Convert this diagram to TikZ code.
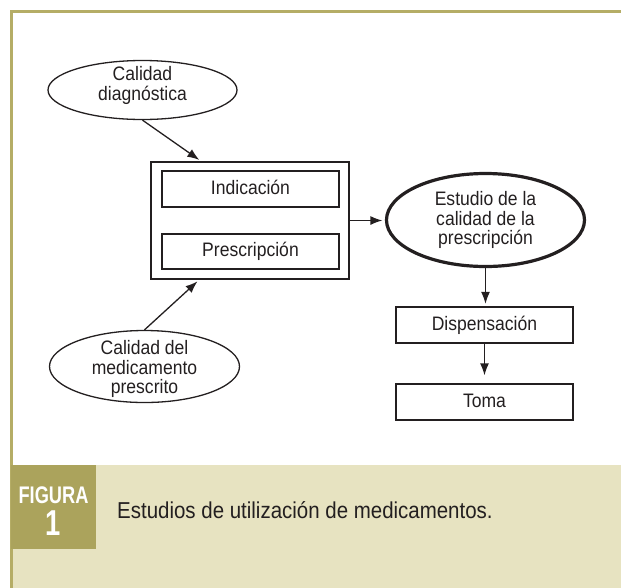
\documentclass[tikz,border=0pt]{standalone}
\usepackage{fontspec}
\setmainfont{Liberation Sans}[FakeStretch=0.9]
\newfontfamily\capfont{Liberation Sans}[FakeStretch=0.89]
\newfontfamily\figfont{Liberation Sans}[FakeStretch=0.76]
\usetikzlibrary{shapes.geometric,arrows.meta,calc}
\definecolor{frameolive}{HTML}{B5AD66}
\definecolor{darkolive}{HTML}{ABA35C}
\definecolor{beigepanel}{HTML}{E7E3C1}
\definecolor{ink}{HTML}{231F20}
\tikzset{
  boxnode/.style={draw=ink, line width=1.3pt, rectangle, inner sep=0pt,
    text height=14pt, text depth=4pt, text=ink,
    font=\fontsize{19.5}{19.5}\selectfont},
  ovalnode/.style={draw=ink, line width=1.3pt, ellipse, inner sep=0pt,
    align=center, text=ink, font=\fontsize{19.5}{19.5}\selectfont},
  arr/.style={draw=ink, line width=1.3pt, -{Latex[length=12pt,width=9pt]},
    shorten >=2.5pt}
}
\begin{document}
\begin{tikzpicture}[x=1pt,y=-1pt]
\useasboundingbox (0,0) rectangle (621,587);
\clip (0,0) rectangle (621,587);
% frame and caption panel
\fill[beigepanel] (12,465) rectangle (630,600);
\draw[frameolive, line width=2.5pt] (640,11.5) -- (11.5,11.5) -- (11.5,600);
\fill[darkolive] (10.5,465) rectangle (96,549);
\node[anchor=base, text=white, inner sep=0pt,
  font=\figfont\bfseries\fontsize{24}{24}\selectfont] (figlbl) at (53.5,503) {FIGURA};
\node[anchor=base, text=white, inner sep=0pt,
  font=\figfont\bfseries\fontsize{36}{36}\selectfont] (fignum) at (53.5,535) {1};
\node[anchor=base west, text=ink, inner sep=0pt,
  font=\capfont\fontsize{23}{23}\selectfont] (caption) at (117,518)
  {Estudios de utilización de medicamentos.};
% diagram nodes
\node[ovalnode, minimum width=189pt, minimum height=59pt, inner ysep=-6pt] (d1)
  at (142.5,90) {Calidad\\diagnóstica\rule[-13pt]{0pt}{13pt}};
\node[draw=ink, line width=1.3pt, rectangle, minimum width=198pt,
  minimum height=117pt, inner sep=0pt] (outer) at (250,220.5) {};
\node[boxnode, minimum width=177pt, minimum height=36pt] (ind) at (250.5,189) {Indicación};
\node[boxnode, minimum width=177pt, minimum height=35pt] (pres) at (250.5,251.5) {Prescripción};
\node[ovalnode, minimum width=190pt, minimum height=72pt, inner ysep=-8pt] (med)
  at (144.5,366.5) {\rule{0pt}{20pt}Calidad del\\medicamento\\prescrito};
\node[ovalnode, line width=3.2pt, minimum width=198pt, minimum height=93pt] (est)
  at (485.5,220) {Estudio de la\\calidad de la\\prescripción};
\node[boxnode, minimum width=177pt, minimum height=36pt] (disp) at (484.5,325) {Dispensación};
\node[boxnode, minimum width=177pt, minimum height=36pt] (toma) at (484.5,402) {Toma};
% connectors
\draw[arr] (d1.south) -- ($(outer.north west)+(51,0)$);
\draw[arr] (med.north) -- ($(outer.south west)+(49,0)$);
\draw[arr] (outer.east) -- (outer.east -| est.west);
\draw[arr] (est.south) -- (est.south |- disp.north);
\draw[arr, shorten >=8pt] (disp.south) -- (disp.south |- toma.north);
\end{tikzpicture}
\end{document}
